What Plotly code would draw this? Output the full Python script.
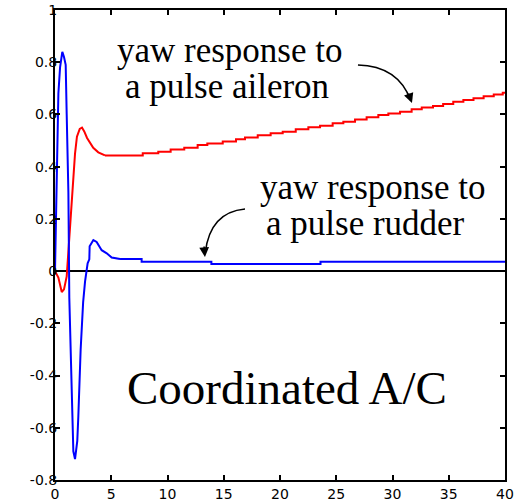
import plotly.graph_objects as go

# ---- data ----
red_t = [0, 0.3, 0.6, 0.8, 1.04, 1.2, 1.33, 1.48, 1.63, 1.78, 1.95, 2.2, 2.4, 2.6,
         2.85, 3.1, 3.4, 3.85, 4.44]
red_y = [0, -0.025, -0.08, -0.07, -0.02, 0.08, 0.18, 0.28, 0.37, 0.45, 0.515, 0.545,
         0.55, 0.535, 0.51, 0.49, 0.472, 0.455, 0.443]
red_tail_t = [4.44, 7.8, 9.18, 10.28, 11.49, 12.68, 13.54, 14.91, 16.09, 16.89, 18.02,
              19.17, 20.24, 21.40, 22.52, 23.56, 24.68, 25.63, 26.67, 27.7, 28.74,
              29.63, 30.67, 31.7, 32.6, 33.6, 34.5, 35.4, 36.3, 37.2, 38.1, 39.0,
              39.8, 40]
red_tail_y = [0.443, 0.451, 0.457, 0.466, 0.472, 0.483, 0.489, 0.496, 0.505, 0.512,
              0.520, 0.528, 0.534, 0.543, 0.551, 0.557, 0.566, 0.572, 0.581, 0.589,
              0.598, 0.604, 0.610, 0.620, 0.627, 0.632, 0.640, 0.649, 0.655, 0.662,
              0.670, 0.676, 0.683, 0.683]

blue_t = [0, 0.15, 0.3, 0.45, 0.65, 0.8, 0.95, 1.04, 1.19, 1.27, 1.45, 1.63, 1.78,
          1.98, 2.07, 2.28, 2.5, 2.67, 2.9, 3.05, 3.08, 3.41, 3.7, 4.15, 4.6, 5.04, 5.78]
blue_y = [0, 0.35, 0.68, 0.78, 0.84, 0.82, 0.79, 0.60, 0.3, -0.1, -0.43, -0.69, -0.72,
          -0.65, -0.56, -0.30, -0.12, -0.04, 0.03, 0.045, 0.095, 0.119, 0.112, 0.08,
          0.068, 0.052, 0.046]
blue_tail_t = [5.78, 7.7, 13.9, 23.6, 40]
blue_tail_y = [0.046, 0.036, 0.027, 0.036, 0.036]

x_ticks = [0, 5, 10, 15, 20, 25, 30, 35, 40]
x_labels = ["0", "5", "10", "15", "20", "25", "30", "35", "40"]
y_ticks = [-0.8, -0.6, -0.4, -0.2, 0, 0.2, 0.4, 0.6, 0.8, 1]
y_labels = ["-0.8", "-0.6", "-0.4", "-0.2", "0", "0.2", "0.4", "0.6", "0.8", "1"]

RED = "#ff0000"
BLUE = "#0000ff"

fig = go.Figure()
fig.add_trace(go.Scatter(x=red_t, y=red_y, mode="lines", line=dict(color=RED, width=2)))
fig.add_trace(go.Scatter(x=red_tail_t, y=red_tail_y, mode="lines",
                         line=dict(color=RED, width=2, shape="hv")))
fig.add_trace(go.Scatter(x=blue_t, y=blue_y, mode="lines", line=dict(color=BLUE, width=2)))
fig.add_trace(go.Scatter(x=blue_tail_t, y=blue_tail_y, mode="lines",
                         line=dict(color=BLUE, width=2, shape="hv")))

serif = "Liberation Serif"
texts = [
    ("yaw response to", 15.56, 0.845, 35),
    ("a pulse aileron", 15.33, 0.707, 35),
    ("yaw response to", 28.27, 0.322, 35),
    ("a pulse rudder", 27.56, 0.181, 35),
    ("Coordinated A/C", 20.58, -0.448, 47),
]
for txt, xx, yy, fs in texts:
    fig.add_annotation(x=xx, y=yy, xref="x", yref="y", text=txt, showarrow=False,
                       xanchor="center", yanchor="middle",
                       font=dict(family=serif, size=fs, color="black"))

# curved arrows (quadratic paths) + arrowheads
fig.add_shape(type="path", xref="x", yref="y",
              path="M 26.93,0.789 Q 30.49,0.785 31.6,0.655",
              line=dict(color="black", width=1.5))
fig.add_annotation(x=31.73, y=0.644, xref="x", yref="y", ax=-4, ay=-11, text="",
                   showarrow=True, arrowhead=2, arrowsize=1.3, arrowwidth=1.5,
                   arrowcolor="black")
fig.add_shape(type="path", xref="x", yref="y",
              path="M 16.89,0.238 Q 13.78,0.226 13.35,0.07",
              line=dict(color="black", width=1.5))
fig.add_annotation(x=13.33, y=0.054, xref="x", yref="y", ax=-1, ay=-12, text="",
                   showarrow=True, arrowhead=2, arrowsize=1.3, arrowwidth=1.5,
                   arrowcolor="black")

tickfont = dict(family="DejaVu Sans", size=14, color="black")
fig.update_xaxes(range=[0, 40], tickvals=x_ticks, ticktext=x_labels, ticks="inside",
                 ticklen=5, tickwidth=1.5, tickcolor="black", showline=True,
                 linecolor="black", linewidth=2, mirror="ticks", showgrid=False,
                 zeroline=False, tickfont=tickfont, automargin=False,
                 ticklabelstandoff=0)
fig.update_yaxes(range=[-0.8, 1], tickvals=y_ticks, ticktext=y_labels, ticks="inside",
                 ticklen=5, tickwidth=1.5, tickcolor="black", showline=True,
                 linecolor="black", linewidth=2, mirror="ticks", showgrid=False,
                 zeroline=True, zerolinecolor="black", zerolinewidth=2,
                 tickfont=tickfont, automargin=False, ticklabelstandoff=-7)
fig.update_layout(width=525, height=503, margin=dict(l=55, r=20, t=10, b=23),
                  paper_bgcolor="white", plot_bgcolor="white", showlegend=False)

fig.write_html("out.html")
